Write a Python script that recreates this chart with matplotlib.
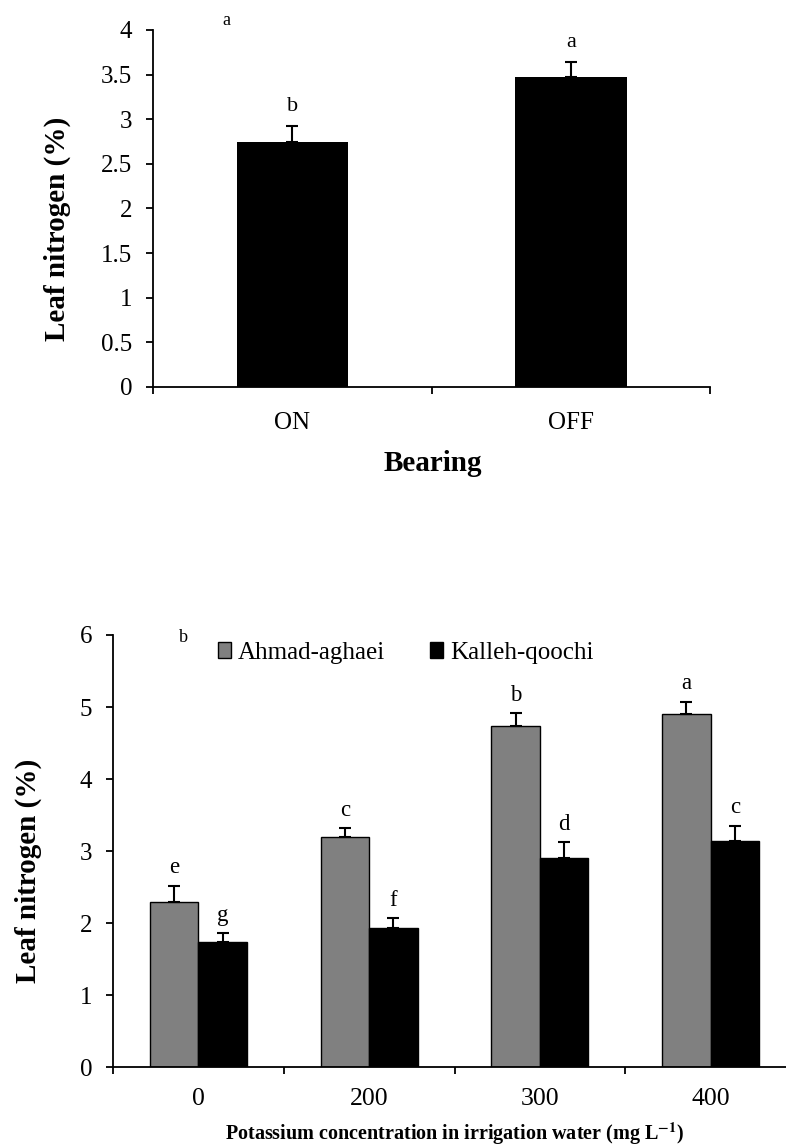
import numpy as np
import matplotlib.pyplot as plt

plt.rcParams['font.family'] = ['Liberation Serif', 'DejaVu Serif']
plt.rcParams['mathtext.fontset'] = 'stix'

#%% data
bearing = ['ON', 'OFF']
bearing_n = [2.75, 3.47]
bearing_se = [0.17, 0.17]
bearing_letters = ['b', 'a']

k_levels = ['0', '200', '300', '400']
ahmad_n = [2.29, 3.20, 4.74, 4.90]
ahmad_se = [0.23, 0.12, 0.17, 0.17]
ahmad_letters = ['e', 'c', 'b', 'a']
kalleh_n = [1.74, 1.94, 2.90, 3.14]
kalleh_se = [0.12, 0.13, 0.22, 0.21]
kalleh_letters = ['g', 'f', 'd', 'c']

err_kw = dict(ecolor='black', elinewidth=1.5, capsize=4.5, capthick=1.5)


def style_axes(ax, ymax, ystep):
    ax.spines['top'].set_visible(False)
    ax.spines['right'].set_visible(False)
    ax.spines['left'].set_linewidth(1.3)
    ax.spines['bottom'].set_linewidth(1.3)
    yt = np.arange(0, ymax + 0.001, ystep)
    ax.set_yticks(yt)
    ax.set_yticklabels(['%g' % v for v in yt])
    ax.tick_params(axis='both', which='major', length=5, width=1.3,
                   direction='out', labelsize=18)
    ax.tick_params(axis='y', pad=10)


fig = plt.figure(figsize=(7.86, 11.48), dpi=100)

#%% a) bearing
ax1 = fig.add_axes([0.1947, 0.6629, 0.7087, 0.311])
x1 = np.arange(len(bearing)) + 0.5
ax1.bar(x1, bearing_n, width=0.4, color='black',
        yerr=[np.zeros(len(bearing_se)), bearing_se], error_kw=err_kw)
for x, v, e, l in zip(x1, bearing_n, bearing_se, bearing_letters):
    ax1.annotate(l, (x, v + e), xytext=(0, 11), textcoords='offset points',
                 ha='center', va='baseline', fontsize=16)
ax1.set_xlim(0, len(bearing))
ax1.set_ylim(0, 4)
style_axes(ax1, 4, 0.5)
ax1.set_xticks(np.arange(len(bearing) + 1))
ax1.set_xticklabels([])
ax1.set_xticks(x1, minor=True)
ax1.set_xticklabels(bearing, minor=True)
ax1.tick_params(axis='x', which='minor', length=0, pad=18, labelsize=18)
ax1.set_ylabel('Leaf nitrogen (%)', fontsize=21, fontweight='bold', va='center')
ax1.yaxis.set_label_coords(-0.172, 0.444)
ax1.set_xlabel('Bearing', fontsize=21, fontweight='bold')
ax1.xaxis.label.set_verticalalignment('baseline')
ax1.xaxis.set_label_coords(0.503, -0.235)
fig.text(226 / 786, 1 - 25 / 1148, 'a', fontsize=13, ha='center', va='baseline')

#%% b) potassium
ax2 = fig.add_axes([0.1438, 0.0703, 0.869, 0.3766])
x2 = np.arange(len(k_levels)) + 0.5
w = 0.284
b1 = ax2.bar(x2 - w / 2, ahmad_n, width=w, color='#808080', edgecolor='black',
             linewidth=1.0, yerr=[np.zeros(4), ahmad_se], error_kw=err_kw,
             label='Ahmad-aghaei')
b2 = ax2.bar(x2 + w / 2, kalleh_n, width=w, color='black', edgecolor='black',
             linewidth=1.0, yerr=[np.zeros(4), kalleh_se], error_kw=err_kw,
             label='Kalleh-qoochi')
for xs, vals, ses, lets in [(x2 - w / 2, ahmad_n, ahmad_se, ahmad_letters),
                            (x2 + w / 2, kalleh_n, kalleh_se, kalleh_letters)]:
    for x, v, e, l in zip(xs, vals, ses, lets):
        ax2.annotate(l, (x, v + e), xytext=(0, 9), textcoords='offset points',
                     ha='center', va='baseline', fontsize=16.5)
ax2.set_xlim(0, len(k_levels))
ax2.set_ylim(0, 6)
style_axes(ax2, 6, 1)
ax2.set_xticks(np.arange(len(k_levels) + 1))
ax2.set_xticklabels([])
ax2.set_xticks(x2, minor=True)
ax2.set_xticklabels(k_levels, minor=True)
ax2.tick_params(axis='x', which='minor', length=0, pad=15, labelsize=18.5)
ax2.set_ylabel('Leaf nitrogen (%)', fontsize=21, fontweight='bold', va='center')
ax2.yaxis.set_label_coords(-0.124, 0.454)
ax2.set_xlabel(r'Potassium concentration in irrigation water (mg L$^{\mathbf{-1}}$)',
               fontsize=14.5, fontweight='bold')
ax2.xaxis.label.set_verticalalignment('baseline')
ax2.xaxis.set_label_coords(0.5, -0.168)
ax2.legend(handles=[b1, b2], loc='center left', bbox_to_anchor=(0.154, 0.958),
           ncol=2, frameon=False, fontsize=18, handlelength=0.5,
           handleheight=0.6, handletextpad=0.3, columnspacing=1.8,
           borderpad=0, borderaxespad=0)
fig.text(183 / 786, 1 - 642 / 1148, 'b', fontsize=13, ha='center', va='baseline')

fig.savefig('out.png', dpi=100)
